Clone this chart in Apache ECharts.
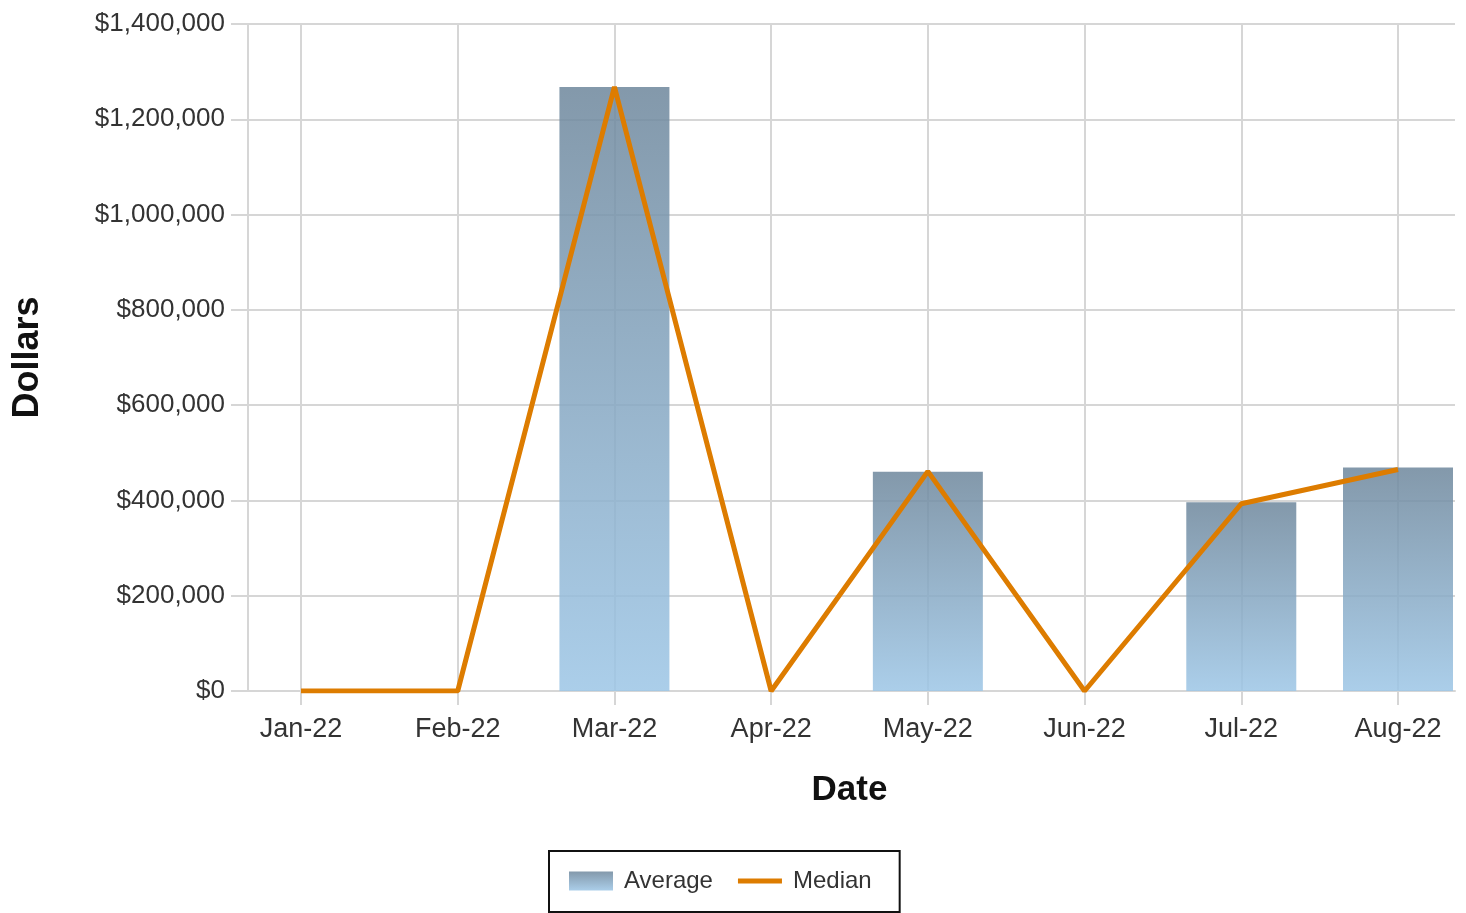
<!DOCTYPE html>
<html>
<head>
<meta charset="utf-8">
<script src="https://cdn.jsdelivr.net/npm/echarts@6/dist/echarts.min.js"></script>
<style>
  html, body { margin: 0; padding: 0; background: #fff; }
  #chart { width: 1466px; height: 913px; }
</style>
</head>
<body>
<div id="chart"></div>
<script>
// 数据
const categories = ["Jan-22", "Feb-22", "Mar-22", "Apr-22", "May-22", "Jun-22", "Jul-22", "Aug-22"];
const averageValues = [0, 0, 1268000, 0, 460000, 0, 396000, 469000];
const medianValues = [0, 0, 1268000, 0, 461000, 0, 393000, 465000];
const yTicks = [0, 1400000, 200000]; // min, max, interval

const gridColor = "#D6D6D6";
const labelFont = "'Liberation Sans', Arial, sans-serif";

let myChart = echarts.init(document.getElementById("chart"));

const fmtDollar = (v) => "$" + v.toLocaleString("en-US");

let option = {
  backgroundColor: "#fff",
  animation: false,
  grid: [
    // 外框，横向网格线 + y轴
    { left: 248, right: 11, top: 24, bottom: 222, outerBoundsMode: "none" },
    // 系列所在区域，类目点从 Jan 到 Aug
    { left: 301, right: 68, top: 24, bottom: 222, outerBoundsMode: "none" },
  ],
  legend: {
    left: 549,
    top: 851,
    orient: "horizontal",
    borderColor: "#111",
    borderWidth: 2,
    borderRadius: 0,
    padding: [18, 28, 19, 20],
    itemWidth: 44,
    itemHeight: 19,
    itemGap: 25,
    textStyle: {
      fontFamily: labelFont,
      fontSize: 24,
      color: "#333",
      padding: [0, 0, 0, 6],
    },
    data: [
      { name: "Average", icon: "rect" },
      { name: "Median", icon: "path://M0,0L44,0L44,5L0,5Z" },
    ],
  },
  xAxis: [
    {
      gridIndex: 0,
      type: "value",
      min: 0,
      max: 1,
      axisLine: { show: true, lineStyle: { color: gridColor, width: 2 } },
      axisTick: { show: false },
      axisLabel: { show: false },
      splitLine: { show: false },
    },
    {
      gridIndex: 1,
      type: "category",
      data: categories,
      boundaryGap: false,
      name: "Date",
      nameLocation: "middle",
      nameGap: 82,
      nameTextStyle: {
        fontFamily: labelFont,
        fontWeight: "bold",
        fontSize: 35,
        color: "#111",
      },
      axisLine: { show: false },
      axisTick: { show: true, length: 14, lineStyle: { color: gridColor, width: 2 } },
      axisLabel: {
        margin: 25,
        fontFamily: labelFont,
        fontSize: 27,
        color: "#333",
      },
      splitLine: { show: true, lineStyle: { color: gridColor, width: 2 } },
    },
  ],
  yAxis: [
    {
      gridIndex: 0,
      type: "value",
      min: yTicks[0],
      max: yTicks[1],
      interval: yTicks[2],
      name: "Dollars",
      nameLocation: "middle",
      nameGap: 202,
      nameRotate: 90,
      nameTextStyle: {
        fontFamily: labelFont,
        fontWeight: "bold",
        fontSize: 36,
        color: "#111",
      },
      axisLine: { show: true, lineStyle: { color: gridColor, width: 2 } },
      axisTick: { show: true, length: 17, lineStyle: { color: gridColor, width: 2 } },
      axisLabel: {
        margin: 23,
        fontFamily: labelFont,
        fontSize: 26,
        color: "#333",
        formatter: fmtDollar,
      },
      splitLine: { show: true, lineStyle: { color: gridColor, width: 2 } },
    },
    {
      gridIndex: 1,
      type: "value",
      min: yTicks[0],
      max: yTicks[1],
      interval: yTicks[2],
      show: false,
      splitLine: { show: false },
    },
  ],
  series: [
    {
      // 柱状
      name: "Average",
      type: "bar",
      xAxisIndex: 1,
      yAxisIndex: 1,
      barWidth: 110,
      clip: false,
      data: averageValues,
      itemStyle: {
        opacity: 0.86,
        color: new echarts.graphic.LinearGradient(0, 0, 0, 1, [
          { offset: 0, color: "#6F889D" },
          { offset: 1, color: "#9DC6E6" },
        ]),
      },
    },
    {
      // 折线
      name: "Median",
      type: "line",
      xAxisIndex: 1,
      yAxisIndex: 1,
      symbol: "none",
      data: medianValues,
      lineStyle: { color: "#DD7C00", width: 5 },
      itemStyle: { color: "#DD7C00" },
      z: 5,
    },
  ],
};
myChart.setOption(option);
</script>
</body>
</html>
